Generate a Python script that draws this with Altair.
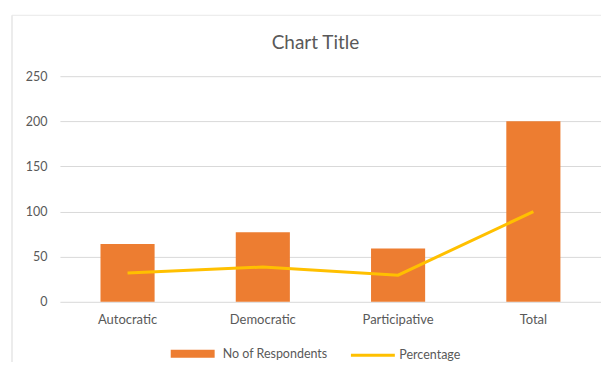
import altair as alt
import pandas as pd

categories = ["Autocratic", "Democratic", "Participative", "Total"]
respondents = [64, 77, 59, 200]
percentage = [32, 38.5, 29.5, 100]
y_ticks = [0, 50, 100, 150, 200, 250]

df = pd.DataFrame({"category": categories, "respondents": respondents, "percentage": percentage})

FONT = "Lato"
GRAY = "#595959"

x_enc = alt.X("category:N", sort=categories, title=None,
              scale=alt.Scale(paddingInner=0.6, paddingOuter=0.3),
              axis=alt.Axis(labelAngle=0, ticks=False, domain=False, labelPadding=12,
                            labelFontSize=13, labelColor=GRAY, labelFont=FONT))
y_scale = alt.Scale(domain=[0, 250])
y_axis = alt.Axis(values=y_ticks, title=None, ticks=False, domain=False, labelPadding=13,
                  labelFontSize=12.5, labelColor=GRAY, labelFont=FONT,
                  gridColor="#D9D9D9", gridWidth=1)

bars = alt.Chart(df).transform_calculate(series="'No of Respondents'").mark_bar().encode(
    x=x_enc,
    y=alt.Y("respondents:Q", scale=y_scale, axis=y_axis),
    fill=alt.Fill("series:N", scale=alt.Scale(domain=["No of Respondents"], range=["#ED7D31"]),
                  legend=alt.Legend(title=None, orient="none", legendX=111, legendY=256,
                                    symbolType="M-1,-0.18L1,-0.18L1,0.18L-1,0.18Z",
                                    symbolSize=1936, symbolOpacity=1, symbolStrokeWidth=0,
                                    labelFontSize=12.5, labelColor=GRAY, labelFont=FONT,
                                    labelOffset=8)),
)

line = alt.Chart(df).transform_calculate(series="'Percentage'").mark_line(strokeWidth=3).encode(
    x=x_enc,
    y=alt.Y("percentage:Q", scale=y_scale, axis=y_axis),
    stroke=alt.Stroke("series:N", scale=alt.Scale(domain=["Percentage"], range=["#FFC000"]),
                      legend=alt.Legend(title=None, orient="none", legendX=290, legendY=256,
                                        symbolType="stroke", symbolSize=1936,
                                        symbolStrokeWidth=3,
                                        labelFontSize=12.5, labelColor=GRAY, labelFont=FONT,
                                        labelOffset=3)),
)

border_left = alt.Chart(df.head(1)).mark_rule(color="#D9D9D9", strokeWidth=1).encode(
    x=alt.value(-48), y=alt.value(-61), y2=alt.value(300))
border_top = alt.Chart(df.head(1)).mark_rule(color="#E8E8E8", strokeWidth=1).encode(
    x=alt.value(-48), x2=alt.value(560), y=alt.value(-61))

chart = alt.layer(border_left, border_top, bars, line).resolve_legend(
    fill="independent", stroke="independent").properties(
    width=542, height=226,
    title=alt.TitleParams("Chart Title", fontSize=19, font=FONT, color=GRAY, fontWeight="normal",
                          anchor="middle", dx=-15, offset=-38),
    autosize=alt.AutoSizeParams(type="none"),
    padding={"left": 52, "top": 68, "right": 0, "bottom": 60},
).configure_view(stroke=None)

chart.save("out.html", embed_options={"renderer": "svg", "actions": False})
